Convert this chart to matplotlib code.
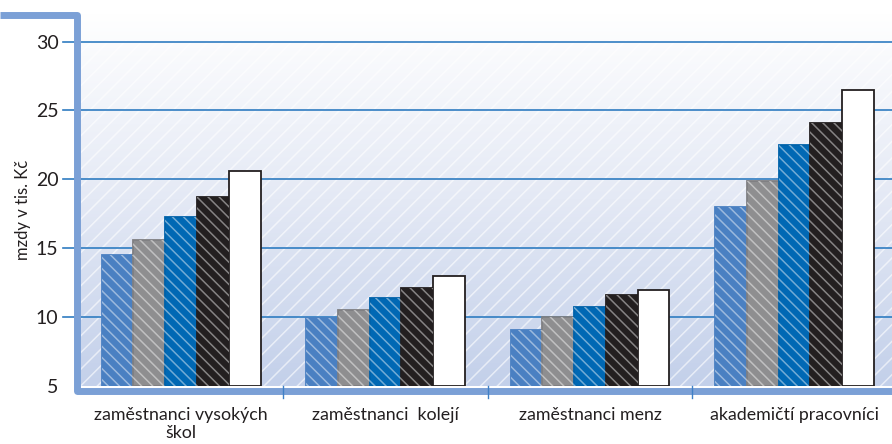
import numpy as np
import matplotlib
matplotlib.use("Agg")
import matplotlib.pyplot as plt
from matplotlib.lines import Line2D
from matplotlib.patches import Rectangle
from matplotlib.colors import LinearSegmentedColormap

plt.rcParams['font.family'] = ['Lato', 'DejaVu Sans']
plt.rcParams['hatch.linewidth'] = 1.1

# data (mzdy v tis. Kč)
categories = ["zaměstnanci vysokých\nškol", "zaměstnanci  kolejí",
              "zaměstnanci menz", "akademičtí pracovníci"]
series_1 = [14.5, 9.9, 9.1, 18.0]
series_2 = [15.6, 10.5, 10.0, 19.9]
series_3 = [17.3, 11.4, 10.7, 22.5]
series_4 = [18.7, 12.1, 11.6, 24.1]
series_5 = [20.6, 13.0, 12.0, 26.5]
y_ticks = [5, 10, 15, 20, 25, 30]

series = [series_1, series_2, series_3, series_4, series_5]
faces = ["#4a80c2", "#8e8e90", "#0068b4", "#231f20", "#ffffff"]
edges = ["#4a80c2", "#7f7f82", "#0062aa", "#231f20", "#231f20"]

W, H = 892, 444
fig = plt.figure(figsize=(W / 100, H / 100), dpi=100)
ax = fig.add_axes([78 / W, 58 / H, 814 / W, 372 / H])
ax.set_xlim(-0.504, 3.477)
ax.set_ylim(5, 32)

# background gradient + light hatch
grad = np.linspace(0, 1, 256).reshape(-1, 1)
cmap = LinearSegmentedColormap.from_list("bg", ["#c3d0ea", "#e4e9f5", "#ffffff"])
ax.imshow(grad, cmap=cmap, extent=[0, 1, 0, 1], transform=ax.transAxes,
          aspect="auto", origin="lower", zorder=0)
ax.add_patch(Rectangle((0, 0), 1, 0.93, transform=ax.transAxes, fill=False,
                       hatch="//", edgecolor=(1, 1, 1, 0.6), lw=0, zorder=0.3))

# gridlines extending past the frame to the labels
for t in y_ticks[1:]:
    ax.axhline(t, xmin=-15 / 814, xmax=1, color="#2f7cc1", lw=1.2,
               clip_on=False, zorder=1)

x = np.arange(len(categories))
bw = 0.1555
for k, vals in enumerate(series):
    pos = x + (k - 2) * bw
    ax.bar(pos, np.array(vals) - 5, bw, bottom=5, color=faces[k],
           edgecolor=edges[k], lw=1.3, zorder=2)
    if k < 4:
        ax.bar(pos, np.array(vals) - 5, bw, bottom=5, fill=False,
               hatch="\\\\\\", edgecolor=(1, 1, 1, 0.45), lw=0, zorder=2.5)

# y axis text
ax.set_yticks(y_ticks)
ax.tick_params(axis="y", length=0, pad=14, labelsize=14, labelcolor="#231f20")
ax.set_xticks(x)
ax.set_xticklabels(categories, fontsize=12.8, color="#231f20")
ax.tick_params(axis="x", length=0, pad=15)
ax.text(-0.068, 0.473, "mzdy v tis. Kč", transform=ax.transAxes, rotation=90,
        ha="center", va="center", fontsize=12, color="#231f20")

for s in ax.spines.values():
    s.set_visible(False)

# frame
frame = Line2D([0, 77 / W, 77 / W, 1.02],
               [(H - 15.5) / H, (H - 15.5) / H, (H - 390.5) / H, (H - 390.5) / H],
               transform=fig.transFigure, color="#7ba0d6", lw=5.0,
               solid_joinstyle="round", solid_capstyle="butt", zorder=3,
               clip_on=False)
ax.add_line(frame)

# small separators below the axis
for sx in [0.5, 1.5, 2.5]:
    ax.plot([sx, sx], [0, -12 / 372], transform=ax.get_xaxis_transform(),
            color="#3f80c6", lw=1.0, clip_on=False, zorder=4)

fig.savefig("out.png", dpi=100)
